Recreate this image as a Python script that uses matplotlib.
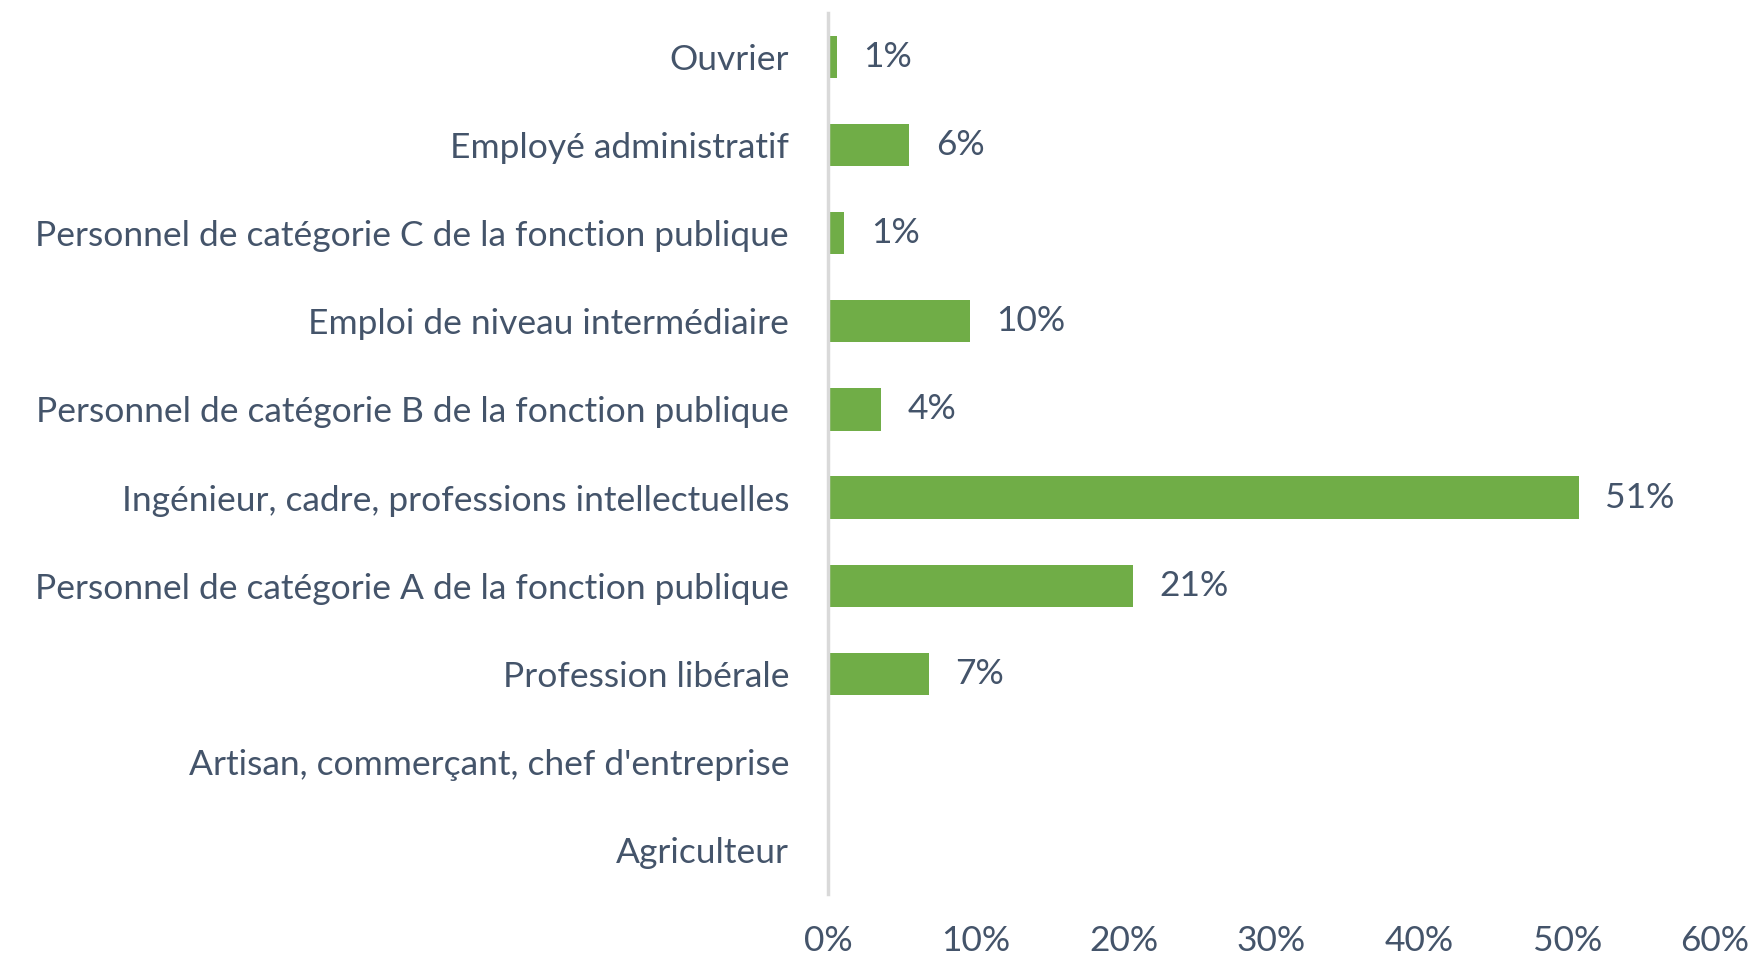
import numpy as np
import matplotlib.pyplot as plt
from matplotlib.ticker import PercentFormatter

# categories from top to bottom, as in the chart
categories = [
    "Ouvrier",
    "Employé administratif",
    "Personnel de catégorie C de la fonction publique",
    "Emploi de niveau intermédiaire",
    "Personnel de catégorie B de la fonction publique",
    "Ingénieur, cadre, professions intellectuelles",
    "Personnel de catégorie A de la fonction publique",
    "Profession libérale",
    "Artisan, commerçant, chef d'entreprise",
    "Agriculteur",
]
values = [0.6, 5.5, 1.1, 9.6, 3.6, 50.8, 20.6, 6.8, 0.0, 0.0]
xticks = [0, 10, 20, 30, 40, 50, 60]

TXT = "#44546A"
GREEN = "#70AD47"

plt.rcParams['font.family'] = ['Lato', 'DejaVu Sans']

fig = plt.figure(figsize=(17.49, 9.57), dpi=100)
ax = fig.add_axes([828/1749, 1 - 894/957, (1715-828)/1749, (894-13)/957])

y = np.arange(len(categories))
ax.barh(y, values, height=0.48, color=GREEN)
ax.set_ylim(len(categories) - 0.5, -0.5)
ax.set_xlim(0, 60)
ax.set_yticks(y)
ax.set_yticklabels(categories)
ax.set_xticks(xticks)
ax.xaxis.set_major_formatter(PercentFormatter(decimals=0))

for yi, v in zip(y, values):
    if v > 0:
        ax.annotate(f"{round(v):.0f}%", (v, yi), xytext=(19, 0), textcoords="offset points",
                    va="center", ha="left", fontsize=25.5, color=TXT)

for s in ["top", "right", "bottom"]:
    ax.spines[s].set_visible(False)
ax.spines["left"].set_color("#D9D9D9")
ax.spines["left"].set_linewidth(2.5)
ax.tick_params(axis="both", length=0, labelsize=25.5, labelcolor=TXT)
ax.tick_params(axis="y", pad=28)
ax.tick_params(axis="x", pad=22)

fig.savefig("out.png", dpi=100)
